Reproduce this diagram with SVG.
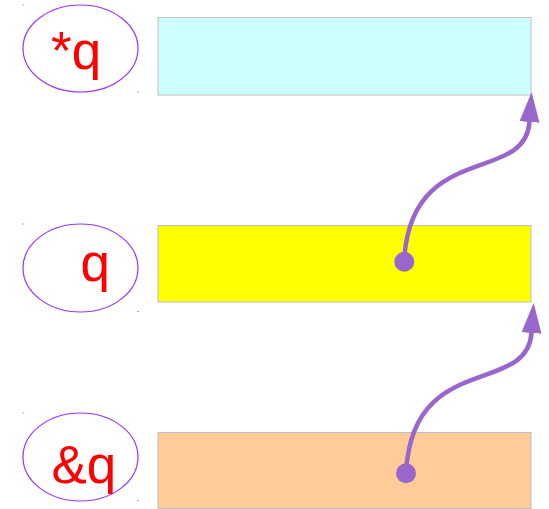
<svg xmlns="http://www.w3.org/2000/svg" width="549" height="509" viewBox="0 0 549 509">
<style>
.lbl{fill:none;stroke:#9933ff;stroke-width:1.2}
.txt{font-family:"Liberation Sans",Arial,sans-serif;font-size:53px;fill:#ff0000}
.box{stroke:#c0c0c0;stroke-width:1}
.speck{fill:#9933ff}
.conn{fill:none;stroke:#9966cc;stroke-width:4.5;stroke-linecap:round}
.dot{fill:#9966cc}
</style>
<defs>
<marker id="ah" markerUnits="userSpaceOnUse" markerWidth="32" markerHeight="22" refX="0" refY="10" orient="auto" viewBox="0 0 32 20">
<path d="M0,0 L30,10 L0,20 Z" fill="#9966cc"/>
</marker>
</defs>
<rect width="549" height="509" fill="#ffffff"/>
<g id="node-starq">
<ellipse class="lbl" cx="80.5" cy="48.5" rx="57.5" ry="43.5"/>
<rect class="speck" x="22.5" y="4.5" width="1" height="1"/>
<rect class="speck" x="137.5" y="91.5" width="1" height="1"/>
<text class="txt" x="51" y="69">*q</text>
</g>
<g id="box-starq">
<rect class="box" x="158" y="17.5" width="373" height="77.5" fill="#ccffff"/>
</g>
<g id="node-q">
<ellipse class="lbl" cx="80.5" cy="268" rx="57.5" ry="44"/>
<rect class="speck" x="22.5" y="223.5" width="1" height="1"/>
<rect class="speck" x="137.5" y="311" width="1" height="1"/>
<text class="txt" x="80.5" y="281">q</text>
</g>
<g id="box-q">
<rect class="box" x="158" y="225.5" width="373" height="76.5" fill="#ffff00"/>
</g>
<g id="node-addrq">
<ellipse class="lbl" cx="80.5" cy="457" rx="57.5" ry="44"/>
<rect class="speck" x="22.5" y="412.5" width="1" height="1"/>
<rect class="speck" x="137.5" y="500" width="1" height="1"/>
<text class="txt" x="51.5" y="483">&amp;q</text>
</g>
<g id="box-addrq">
<rect class="box" x="158" y="432.5" width="373" height="76" fill="#ffcc99"/>
</g>
<g id="connectors">
<path class="conn" d="M404,262 C410,140 525,185 529.5,122" marker-end="url(#ah)"/>
<circle class="dot" cx="404.3" cy="261.7" r="10"/>
<path class="conn" d="M406,473 C412,351 527,396 531.5,333" marker-end="url(#ah)"/>
<circle class="dot" cx="406" cy="473.3" r="10"/>
</g>
</svg>
